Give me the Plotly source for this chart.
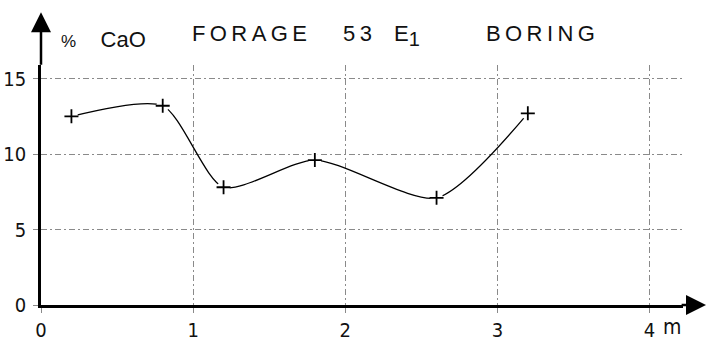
import plotly.graph_objects as go

# Boring 53 E1: CaO content against depth
depth_m = [0.2, 0.8, 1.2, 1.8, 2.6, 3.2]
cao_pct = [12.5, 13.2, 7.8, 9.6, 7.1, 12.7]

x_ticks = [0, 1, 2, 3, 4]
x_tick_text = ["0", "1", "2", "3", "4"]
y_ticks = [0, 5, 10, 15]
y_tick_text = ["0", "5", "10", "15"]

FONT = "Liberation Sans Narrow, DejaVu Sans Condensed, Liberation Sans, Arial, sans-serif"
TITLE_FONT = "Liberation Sans, Arial, sans-serif"
THIN = "\u2009"

def spaced(word):
    return THIN.join(word)

fig = go.Figure()

# smooth hand-drawn style curve
fig.add_trace(go.Scatter(
    x=depth_m, y=cao_pct, mode="lines",
    line=dict(color="black", width=1.3, shape="spline", smoothing=0.7),
    hoverinfo="skip", showlegend=False,
))
# small white halo so the curve stops short of each sample mark
fig.add_trace(go.Scatter(
    x=depth_m, y=cao_pct, mode="markers",
    marker=dict(symbol="circle", size=13, color="white", line=dict(width=0)),
    hoverinfo="skip", showlegend=False,
))
fig.add_trace(go.Scatter(
    x=depth_m, y=cao_pct, mode="markers",
    marker=dict(symbol="cross-thin", size=10, color="black",
                line=dict(color="black", width=1.8)),
    showlegend=False,
))

grid = dict(showgrid=True, gridcolor="#8a8a8a", gridwidth=1, griddash="6px,3px,2px,3px")

fig.update_xaxes(
    range=[0, 4.22], tickmode="array", tickvals=x_ticks, ticktext=x_tick_text,
    showline=True, linecolor="black", linewidth=2.5, zeroline=False, automargin=False,
    ticks="outside", ticklen=5, tickcolor="#8a8a8a", tickwidth=1,
    tickfont=dict(family=FONT, size=20, color="#111"),
    **grid,
)
fig.update_yaxes(
    range=[0, 15.9], tickmode="array", tickvals=y_ticks, ticktext=y_tick_text,
    showline=True, linecolor="black", linewidth=2.5, zeroline=False, automargin=False,
    ticks="outside", ticklen=5, tickcolor="#8a8a8a", tickwidth=1,
    ticklabelstandoff=3,
    tickfont=dict(family=FONT, size=20, color="#111"),
    **grid,
)

annotations = [
    # axis arrows
    dict(xref="paper", yref="paper", x=0, y=1.22, ax=0, ay=54, axref="pixel", ayref="pixel",
         showarrow=True, arrowhead=2, arrowsize=1.6, arrowwidth=2.5, arrowcolor="black",
         text="", standoff=0),
    dict(xref="paper", yref="paper", x=1.036, y=0, ax=-26, ay=0,
         showarrow=True, arrowhead=2, arrowsize=1.6, arrowwidth=2.5, arrowcolor="black",
         text="", standoff=0),
    # unit of the depth axis
    dict(xref="x", yref="paper", x=4.15, y=0, yanchor="top", yshift=-8, text="m",
         showarrow=False, font=dict(family=FONT, size=21, color="#111")),
    # quantity on the vertical axis
    dict(xref="paper", yref="paper", x=0.028, y=1.105, xanchor="left", yanchor="middle",
         text="<span style='font-size:17px'>%</span>    CaO", showarrow=False,
         font=dict(family=TITLE_FONT, size=22, color="#111")),
    # heading
    dict(xref="paper", yref="paper", x=0.232, y=1.13, xanchor="left", yanchor="middle",
         text=spaced("FORAGE"), showarrow=False,
         font=dict(family=TITLE_FONT, size=22, color="#111")),
    dict(xref="paper", yref="paper", x=0.468, y=1.13, xanchor="left", yanchor="middle",
         text=spaced("53"), showarrow=False,
         font=dict(family=TITLE_FONT, size=22, color="#111")),
    dict(xref="paper", yref="paper", x=0.546, y=1.125, xanchor="left", yanchor="middle",
         text="E<sub><span style='font-size:20px'>1</span></sub>", showarrow=False,
         font=dict(family=TITLE_FONT, size=22, color="#111")),
    dict(xref="paper", yref="paper", x=0.690, y=1.13, xanchor="left", yanchor="middle",
         text=spaced("BORING"), showarrow=False,
         font=dict(family=TITLE_FONT, size=22, color="#111")),
]

fig.update_layout(
    width=707, height=341,
    margin=dict(l=41, r=24, t=65, b=36),
    paper_bgcolor="white", plot_bgcolor="white",
    annotations=annotations,
    showlegend=False,
)

fig.write_html("out.html", config={"displayModeBar": False})
